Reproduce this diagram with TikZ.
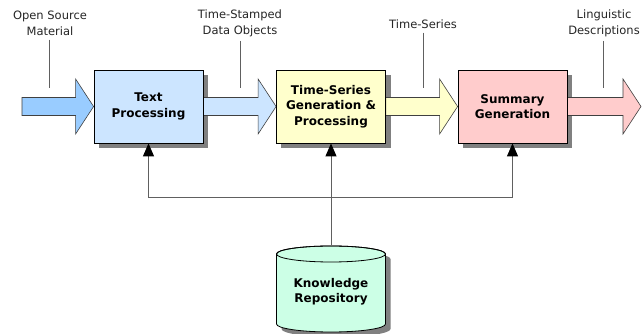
\documentclass[tikz,border=0pt]{standalone}
\usepackage{fontspec}
\setmainfont{DejaVu Sans}
\usetikzlibrary{arrows.meta,calc}
\definecolor{inblue}{HTML}{99CCFF}
\definecolor{lblue}{HTML}{CCE5FF}
\definecolor{lyellow}{HTML}{FFFFCC}
\definecolor{lpink}{HTML}{FFCCCC}
\definecolor{mint}{HTML}{CCFFE6}
\definecolor{shadowgray}{HTML}{808080}
\definecolor{linegray}{HTML}{606060}
\definecolor{arrowline}{HTML}{404040}
\pgfdeclarelayer{bg}
\pgfdeclarelayer{paper}
\pgfsetlayers{paper,bg,main}
\newcommand{\flowarrow}[3]{%
  \fill[#3,draw=arrowline,line width=0.6pt] let \p1=(#1), \p2=(#2) in
    (\x1,\y1+9pt) -- (\x2-18pt,\y1+9pt) -- (\x2-18pt,\y1+27.5pt) -- (\x2,\y1)
    -- (\x2-18pt,\y1-27.5pt) -- (\x2-18pt,\y1-9pt) -- (\x1,\y1-9pt) -- cycle;}
\newcommand{\boxshadow}[1]{%
  \fill[shadowgray] ($(#1.south west)+(5,-5)$) rectangle ($(#1.north east)+(5,-5)$);}
\begin{document}
\begin{tikzpicture}[x=1pt,y=1pt,
  procbox/.style={draw=black,line width=0.8pt,minimum width=109pt,minimum height=73pt,
    inner sep=0pt,align=center,font=\bfseries\fontsize{12}{15.5}\selectfont},
  lbl/.style={align=center,inner sep=0pt,text=black!85,font=\fontsize{11.5}{16}\selectfont},
  leader/.style={draw=linegray,line width=0.8pt},
  conn/.style={draw=linegray,line width=0.9pt},
  connarrow/.style={conn,-{Triangle[length=13pt,width=11pt,color=black]}}]
\useasboundingbox (0,0) rectangle (642,334);
\begin{pgfonlayer}{paper}
\fill[white] (0,0) rectangle (642,334);
\end{pgfonlayer}
% process boxes
\node[procbox,fill=lblue] (tp) at (148.5,227.5) {Text\\Processing};
\node[procbox,fill=lyellow] (ts) at (331,227.5) {Time-Series\\Generation \&\\Processing};
\node[procbox,fill=lpink] (sg) at (512.5,227.5) {Summary\\Generation};
\coordinate (src) at (22,227.5);
\coordinate (dst) at (641,227.5);
% shadows and flow arrows
\begin{pgfonlayer}{bg}
\boxshadow{tp}
\boxshadow{ts}
\boxshadow{sg}
\flowarrow{src}{tp.west}{inblue}
\flowarrow{tp.east}{ts.west}{lblue}
\flowarrow{ts.east}{sg.west}{lyellow}
\flowarrow{sg.east}{dst}{lpink}
\end{pgfonlayer}
% labels
\node[lbl] (l1) at (50,311) {Open Source\\Material};
\node[lbl] (l2) at (240,311) {Time-Stamped\\Data Objects};
\node[lbl] (l3) at (423,310) {Time-Series};
\node[lbl] (l4) at (604,311) {Linguistic\\Descriptions};
\coordinate (e1) at (49,246);
\coordinate (e2) at (240,246);
\coordinate (e3) at (423,246);
\coordinate (e4) at (603,246);
\draw[leader] (l1.south -| e1) ++(0,-4) -- (e1);
\draw[leader] (l2.south -| e2) ++(0,-4) -- (e2);
\draw[leader] (l3.south -| e3) ++(0,-4) -- (e3);
\draw[leader] (l4.south -| e4) ++(0,-4) -- (e4);
% knowledge repository cylinder
\fill[shadowgray] (281.5,75) -- (281.5,5) arc (180:360:54.5 and 8) -- (390.5,75) arc (0:180:54.5 and 8) -- cycle;
\path[fill=mint,draw=black,line width=0.8pt] (276.5,80) -- (276.5,10) arc (180:360:54.5 and 8) -- (385.5,80) arc (0:180:54.5 and 8) -- cycle;
\draw[black,line width=0.8pt] (331,80) ellipse (54.5 and 8);
\node[align=center,inner sep=0pt,font=\bfseries\fontsize{12}{15}\selectfont] (kr) at (331,42) {Knowledge\\Repository};
\coordinate (krtop) at (331,89);
% connectors
\coordinate (j) at ($(ts.south)+(0,-54)$);
\draw[connarrow] (krtop) -- (ts.south);
\draw[connarrow] (j) -| (tp.south);
\draw[connarrow] (j) -| (sg.south);
\end{tikzpicture}
\end{document}
